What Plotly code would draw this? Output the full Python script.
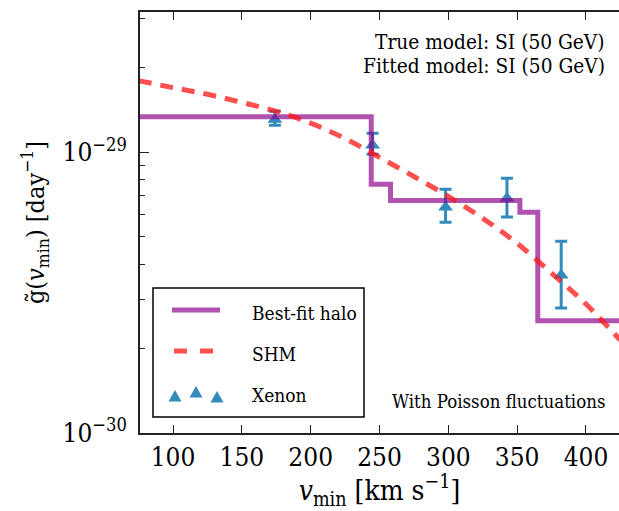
import plotly.graph_objects as go

# ---------------- data ----------------
step_x = [75, 244, 258, 352, 365, 425]
step_y = [1.34e-29, 7.69e-30, 6.74e-30, 6.12e-30, 2.51e-30, 2.51e-30]

shm_x = [75, 100, 125, 150, 175, 200, 225, 250, 275, 300, 325, 350, 375, 400, 425]
shm_y = [1.80e-29, 1.70e-29, 1.61e-29, 1.506e-29, 1.40e-29, 1.27e-29, 1.12e-29,
         9.6e-30, 8.2e-30, 6.97e-30, 5.82e-30, 4.74e-30, 3.71e-30, 2.88e-30, 2.14e-30]

xe_x = [174, 245, 298, 342.6, 382]
xe_y = [1.31e-29, 1.06e-29, 6.37e-30, 6.86e-30, 3.65e-30]
xe_hi = [1.40e-29, 1.17e-29, 7.38e-30, 8.08e-30, 4.82e-30]
xe_lo = [1.25e-29, 9.84e-30, 5.64e-30, 5.88e-30, 2.79e-30]

legend_labels = ["Best-fit halo", "SHM", "Xenon"]
y_tickvals = [1e-30, 1e-29]
y_ticktext = ["10<sup>−30</sup>", "10<sup>−29</sup>"]
y_minor = [k * 1e-30 for k in range(2, 10)] + [2e-29, 3e-29]
x_tickvals = [100, 150, 200, 250, 300, 350, 400]

PURPLE = "rgba(139,0,139,0.68)"
RED = "rgba(255,20,20,0.75)"
BLUE = "#348ABD"
FONT = "DejaVu Serif Condensed"

W, H = 619, 511
L, R, T, B = 140, 0, 12, 78
PW, PH = W - L - R, H - T - B


def px(xp):
    return (xp - L) / PW


def py(yp):
    return (H - B - yp) / PH


fig = go.Figure()

fig.add_trace(go.Scatter(
    x=xe_x, y=xe_y, mode="markers",
    marker=dict(symbol="triangle-up", size=13, color=BLUE, line=dict(width=0)),
    error_y=dict(type="data", symmetric=False,
                 array=[h - v for h, v in zip(xe_hi, xe_y)],
                 arrayminus=[v - l for l, v in zip(xe_lo, xe_y)],
                 color=BLUE, thickness=3, width=6),
    showlegend=False))

fig.add_trace(go.Scatter(
    x=step_x, y=step_y, mode="lines", line=dict(color=PURPLE, width=5, shape="hv"),
    showlegend=False))

fig.add_trace(go.Scatter(
    x=shm_x, y=shm_y, mode="lines", line=dict(color=RED, width=5, dash="13px,9px",
                                              shape="spline"),
    showlegend=False))

shapes = []
annotations = []

shapes.append(dict(type="rect", xref="paper", yref="paper",
                   x0=px(153), x1=px(364), y0=py(417), y1=py(288),
                   line=dict(color="black", width=1.5), fillcolor="white", layer="above"))
shapes.append(dict(type="line", xref="paper", yref="paper",
                   x0=px(172), x1=px(220), y0=py(310), y1=py(310),
                   line=dict(color=PURPLE, width=5), layer="above"))
for a, b in [(174, 187), (200, 213)]:
    shapes.append(dict(type="line", xref="paper", yref="paper",
                       x0=px(a), x1=px(b), y0=py(351), y1=py(351),
                       line=dict(color=RED, width=5), layer="above"))
for cx, cy in [(175, 396), (196, 392), (217, 397)]:
    path = "M {} {} L {} {} L {} {} Z".format(
        px(cx - 6.5), py(cy + 5.5), px(cx + 6.5), py(cy + 5.5), px(cx), py(cy - 6))
    shapes.append(dict(type="path", xref="paper", yref="paper", path=path,
                       fillcolor=BLUE, line=dict(width=0), layer="above"))
for lab, yy in zip(legend_labels, [313, 354, 395]):
    annotations.append(dict(text=lab, xref="paper", yref="paper", x=px(250), y=py(yy),
                            xanchor="left", yanchor="middle", showarrow=False,
                            font=dict(family=FONT, size=19, color="black")))

annotations.append(dict(text="True model: SI (50 GeV)", xref="paper", yref="paper",
                        x=px(607), y=py(42), xanchor="right", yanchor="middle",
                        showarrow=False, font=dict(family=FONT, size=20.7, color="black")))
annotations.append(dict(text="Fitted model: SI (50 GeV)", xref="paper", yref="paper",
                        x=px(607), y=py(66), xanchor="right", yanchor="middle",
                        showarrow=False, font=dict(family=FONT, size=20.7, color="black")))
annotations.append(dict(text="With Poisson fluctuations", xref="paper", yref="paper",
                        x=px(607), y=py(401), xanchor="right", yanchor="middle",
                        showarrow=False, font=dict(family=FONT, size=18.5, color="black")))

fig.update_layout(
    width=W, height=H, margin=dict(l=L, r=R, t=T, b=B, pad=0),
    paper_bgcolor="white", plot_bgcolor="white",
    font=dict(family=FONT, color="black"),
    shapes=shapes, annotations=annotations, showlegend=False,
    xaxis=dict(range=[76, 424], tickvals=x_tickvals, ticks="inside", ticklen=8,
               tickwidth=1.2, tickcolor="#222", showline=True, linecolor="#222",
               linewidth=2, mirror="ticks", showgrid=False, zeroline=False,
               tickfont=dict(size=26, family=FONT), ticklabelstandoff=0,
               title=dict(text="<i>v</i><sub>min</sub> [km s<sup>−1</sup>]",
                          font=dict(size=28, family=FONT), standoff=8)),
    yaxis=dict(type="log", range=[-30, -28.5], tickvals=y_tickvals, ticktext=y_ticktext,
               ticks="inside", ticklen=9, tickwidth=1.2, tickcolor="#222",
               showline=True, linecolor="#222", linewidth=2, showgrid=False,
               zeroline=False, tickfont=dict(size=26, family=FONT), ticklabelstandoff=6,
               minor=dict(tickvals=y_minor, ticks="inside", ticklen=5, tickwidth=1,
                          tickcolor="#222", showgrid=False),
               title=dict(text="g̃(<i>v</i><sub>min</sub>) [day<sup>−1</sup>]",
                          font=dict(size=25, family=FONT), standoff=11)),
)

fig.write_html("out.html")
